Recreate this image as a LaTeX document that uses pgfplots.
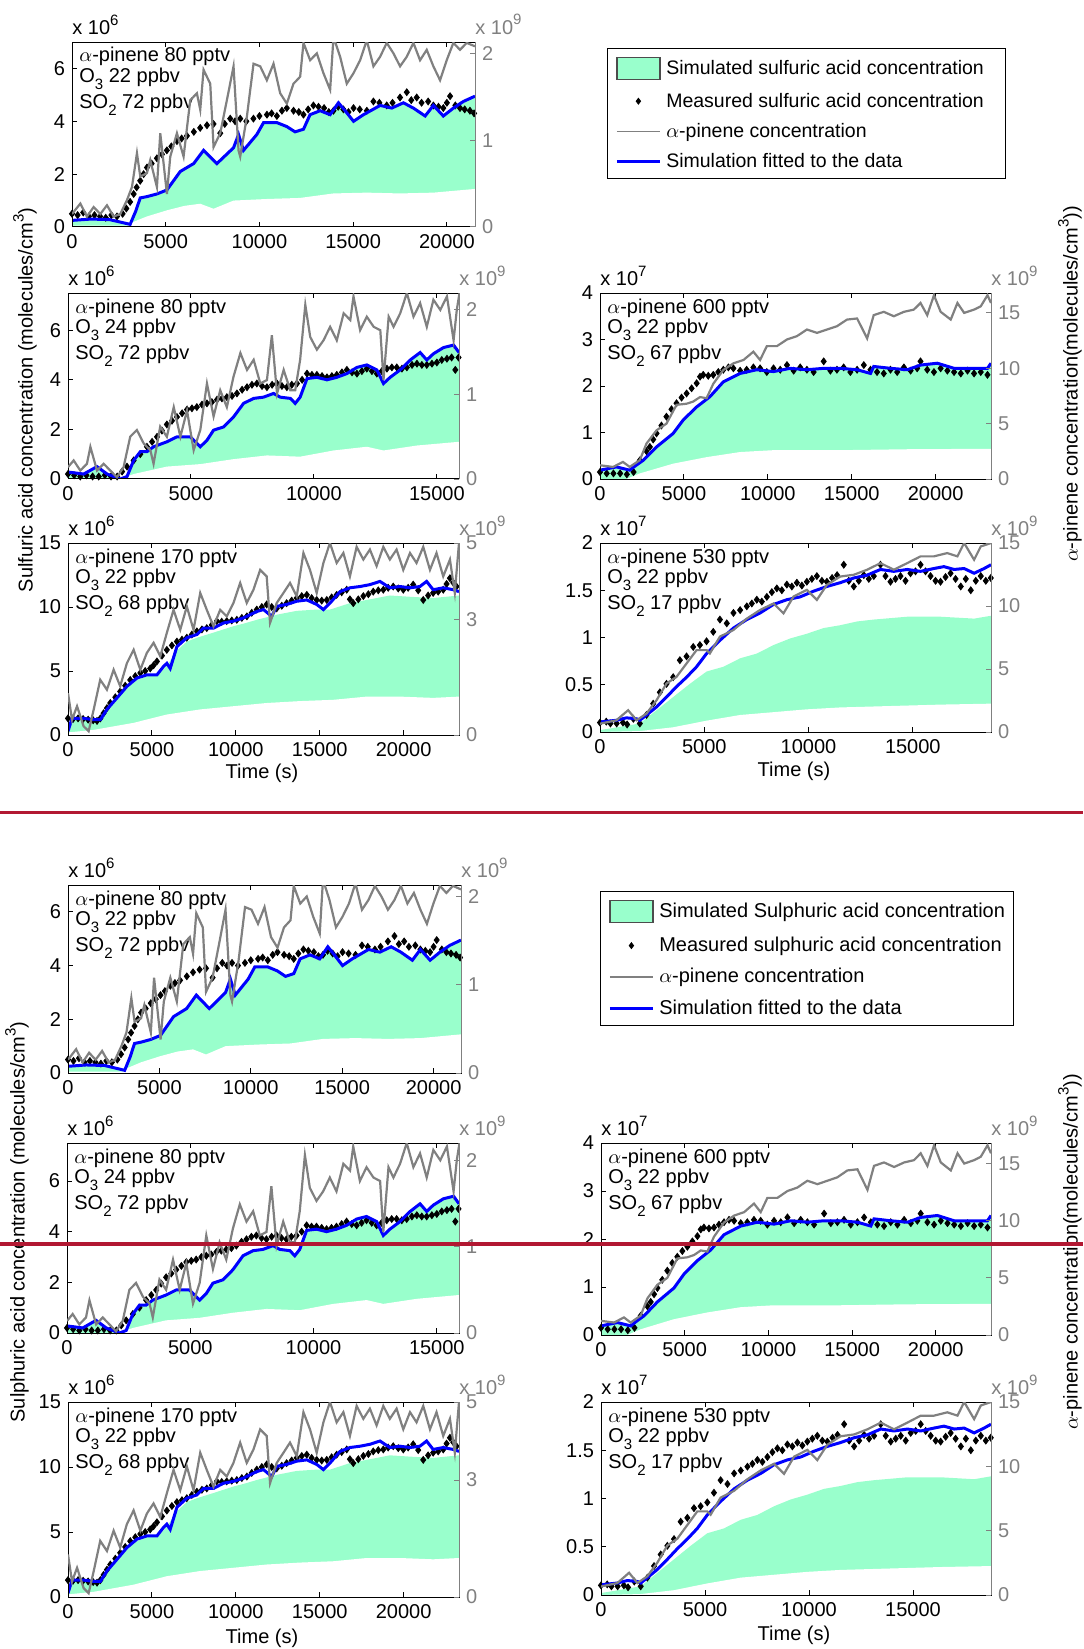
\documentclass[border=0pt]{standalone}
\usepackage{fontspec}
\setmainfont{Liberation Sans}
\usepackage{pgfplots}
\usepackage{pgfplotstable}
\pgfplotsset{compat=1.18}

\definecolor{simgreen}{RGB}{153,255,204}
\definecolor{pingray}{RGB}{128,128,128}
\definecolor{sepred}{RGB}{178,24,50}

\newcommand{\fs}{\fontsize{10}{12}\selectfont}
\newcommand{\subs}[1]{\raisebox{-3.5pt}{\fontsize{7.5}{8}\selectfont #1}}
\newcommand{\supr}[1]{\raisebox{4.5pt}{\fontsize{7.5}{8}\selectfont #1}}
\newcommand{\lstrut}{\rule[-2pt]{0pt}{9.5pt}}

\pgfplotsset{
  leftax/.style={scale only axis, anchor=north west, xmin=0, ymin=0,
    axis on top, clip mode=individual,
    axis line style={black, line width=0.5pt},
    tick style={black, line width=0.5pt}, major tick length=2.5pt,
    tick align=inside, ytick pos=left, xtick pos=both,
    scaled ticks=false, tick label style={font=\fs},
    /pgf/number format/assume math mode=true,
    /pgf/number format/1000 sep={}},
  rightax/.style={scale only axis, anchor=north west, xmin=0, ymin=0,
    clip mode=individual,
    axis x line=none, axis y line*=right,
    y axis line style={pingray, line width=0.5pt},
    tick style={pingray, line width=0.5pt}, major tick length=2.5pt,
    tick align=inside, scaled ticks=false,
    yticklabel style={pingray, font=\fs},
    /pgf/number format/assume math mode=true},
  sim/.style={color=blue, line width=1.5pt},
  meas/.style={only marks, mark=diamond*, mark size=1.7pt, color=black},
  pin/.style={color=pingray, line width=1.1pt},
}

% ---------------- panel 1: 80 pptv, O3 22, SO2 72
\pgfplotstableread{
x y
0 0.25
1000 0.3
2000 0.28
2800 0.15
3100 0.1
3400 0.6
3640 1.1
4000 1.15
4530 1.25
5060 1.4
5775 2.1
6490 2.4
7020 2.9
7730 2.4
8620 3.0
8885 3.5
9150 2.9
9860 3.5
10220 3.95
10930 3.95
11460 3.8
11900 3.6
12350 3.7
12700 4.25
13240 4.4
13770 4.25
14215 4.7
14570 4.4
15020 4.0
15550 4.25
16440 4.6
17060 4.5
17680 4.7
18210 4.5
18840 4.2
19280 4.6
19810 4.2
20350 4.5
20880 4.75
21500 4.95
}\PaB
\pgfplotstableread{
x y
0 0.05
3000 0.05
3300 0.2
4000 0.4
5060 0.63
6000 0.8
6840 0.88
7550 0.69
8620 1.0
10400 1.06
12170 1.1
13950 1.27
15730 1.3
17500 1.27
19280 1.3
21500 1.44
}\PaL
\pgfplotstableread{
x y
0 0.5
300 0.45
600 0.55
900 0.4
1200 0.45
1500 0.4
1800 0.35
2100 0.45
2400 0.4
2700 0.5
2900 0.7
3100 0.95
3290 1.25
3450 1.5
3640 1.75
3820 2.0
4000 2.25
4250 2.4
4530 2.6
4800 2.75
5060 2.9
5300 3.05
5600 3.25
5850 3.35
6130 3.45
6500 3.6
6840 3.75
7200 3.85
7550 3.9
7910 3.55
8150 3.9
8440 4.1
8700 4.0
8975 4.1
9300 4.0
9680 4.1
10000 4.2
10400 4.25
10650 4.3
10930 4.2
11200 4.4
11460 4.5
11820 4.4
12100 4.35
12350 4.25
12600 4.45
12880 4.6
13150 4.55
13450 4.5
13700 4.35
13950 4.4
14200 4.55
14480 4.45
14750 4.35
15020 4.5
15350 4.45
15730 4.4
16080 4.75
16400 4.7
16790 4.6
17100 4.7
17500 4.9
17860 5.1
18100 4.8
18390 4.9
18650 4.7
19000 4.75
19280 4.6
19550 4.55
19810 4.5
20000 4.7
20170 4.95
20450 4.6
20700 4.5
20950 4.45
21230 4.4
21450 4.3
}\PaM
\pgfplotstableread{
x y
0 0.15
444 0.27
800 0.12
1155 0.23
1510 0.15
1866 0.25
2221 0.12
2577 0.15
2932 0.31
3199 0.46
3465 0.85
3643 0.58
3998 0.62
4176 0.77
4531 0.46
4709 1.08
4887 0.73
5064 0.38
5242 0.81
5598 1.08
5953 0.81
6308 1.46
6664 1.54
6841 1.35
7019 1.81
7375 1.65
7552 0.92
7908 1.08
8263 1.46
8618 1.85
8885 0.88
8974 0.81
9329 1.27
9685 1.88
10040 1.85
10395 1.69
10751 1.88
11106 1.54
11462 1.42
11817 1.65
12172 1.73
12350 2.12
12706 1.92
13061 2.0
13416 1.77
13772 1.58
13950 2.19
14305 1.96
14660 1.65
15016 1.77
15371 1.92
15726 2.15
16082 1.85
16437 1.96
16792 2.12
17148 2.0
17503 1.85
17858 1.96
18214 2.12
18569 1.92
18924 2.04
19280 1.85
19635 1.69
19990 1.92
20346 2.12
20701 2.04
21057 2.12
21500 2.08
}\PaG

% ---------------- panel 3: 80 pptv, O3 24, SO2 72
\pgfplotstableread{
x y
0 0.28
640 0.2
1180 0.5
1590 0.2
2130 0.0
2400 0.1
2670 0.75
2940 1.1
3210 1.1
3480 1.3
4020 1.5
4430 1.7
4970 1.7
5380 1.3
5650 1.56
5920 1.97
6330 2.1
6730 2.5
7140 3.05
7550 3.25
7950 3.3
8360 3.45
8630 3.3
9040 3.25
9240 3.05
9440 3.3
9720 4.05
10120 4.1
10530 4.0
10930 4.1
11340 4.25
11750 4.5
12150 4.6
12560 4.4
12830 3.85
13100 4.1
13510 4.4
13920 4.8
14320 5.1
14590 4.8
14860 5.05
15270 5.3
15680 5.4
15900 5.1
}\PbB
\pgfplotstableread{
x y
0 0.0
2130 0.0
2670 0.2
4020 0.5
5380 0.6
6730 0.8
8090 0.95
9440 0.9
10800 1.15
12150 1.3
12830 1.15
14190 1.35
15900 1.5
}\PbL
\pgfplotstableread{
x y
0 0.2
250 0.15
500 0.1
750 0.15
1000 0.1
1250 0.1
1500 0.15
1750 0.1
2000 0.1
2200 0.3
2400 0.5
2670 0.75
2940 1.0
3210 1.3
3420 1.5
3620 1.7
3820 1.95
4020 2.2
4230 2.35
4430 2.5
4640 2.65
4840 2.8
5040 2.85
5240 2.9
5450 3.0
5650 3.05
5850 3.1
6060 3.2
6260 3.25
6460 3.3
6670 3.35
6870 3.45
7080 3.6
7280 3.7
7480 3.8
7680 3.85
7890 3.75
8090 3.7
8300 3.8
8500 3.85
8700 3.75
8900 3.7
9100 3.8
9310 3.85
9520 4.0
9720 4.25
9920 4.2
10120 4.2
10330 4.15
10530 4.1
10730 4.15
10930 4.2
11140 4.3
11340 4.4
11550 4.3
11750 4.25
11950 4.35
12150 4.45
12360 4.35
12560 4.25
12760 4.35
12970 4.45
13170 4.5
13370 4.5
13580 4.45
13780 4.5
13990 4.6
14190 4.65
14390 4.6
14590 4.6
14800 4.65
15000 4.7
15200 4.8
15410 4.85
15600 4.9
15750 4.4
15880 4.9
}\PbM
\pgfplotstableread{
x y
0 0.14
230 0.22
500 0.10
770 0.18
910 0.38
1180 0.10
1450 0.18
1720 0.10
1990 0.02
2260 0.14
2530 0.50
2800 0.58
3080 0.42
3350 0.34
3480 0.18
3750 0.62
4020 0.50
4300 0.85
4570 0.50
4840 0.81
5110 0.34
5380 0.58
5650 1.13
5920 0.74
6190 1.05
6460 0.85
6730 1.21
7010 1.49
7280 1.29
7550 1.41
7820 1.13
8090 1.17
8290 1.70
8500 1.01
8770 1.29
9040 1.05
9240 1.05
9440 1.41
9650 2.06
9850 1.68
10120 1.53
10390 1.64
10660 1.80
10930 1.64
11210 1.96
11480 1.88
11610 2.16
11880 1.76
12150 1.92
12430 1.80
12700 1.76
12830 1.17
13040 1.92
13240 1.80
13510 1.96
13780 2.20
14050 1.92
14320 2.08
14590 1.80
14860 2.12
15140 2.00
15410 2.16
15680 1.64
15810 2.00
15920 2.20
}\PbG

% ---------------- panel 4: 600 pptv, O3 22, SO2 67
\pgfplotstableread{
x y
0 0.19
980 0.26
1770 0.19
2170 0.3
2570 0.4
3370 0.69
4360 0.98
4960 1.27
5760 1.55
6550 1.77
7350 2.09
8350 2.27
9340 2.35
10340 2.31
11330 2.38
12330 2.35
13320 2.38
14320 2.38
15320 2.35
16120 2.27
16310 2.42
17310 2.38
18310 2.35
19100 2.45
20100 2.49
21100 2.38
22290 2.38
23090 2.38
23300 2.49
}\PcB
\pgfplotstableread{
x y
0 0
1570 0
2370 0.12
4360 0.33
6350 0.47
8350 0.58
10340 0.62
14320 0.62
18310 0.64
23300 0.65
}\PcL
\pgfplotstableread{
x y
0 0.15
400 0.12
800 0.12
1200 0.12
1600 0.1
2000 0.15
2370 0.4
2770 0.6
2970 0.69
3170 0.85
3370 0.98
3660 1.15
3960 1.34
4260 1.5
4560 1.63
4860 1.75
5160 1.84
5460 1.95
5760 2.06
5960 2.2
6150 2.24
6450 2.22
6750 2.24
7050 2.3
7350 2.35
7650 2.4
7950 2.38
8350 2.33
8740 2.35
9140 2.4
9540 2.38
9940 2.3
10340 2.38
10740 2.35
11140 2.45
11540 2.33
11930 2.4
12330 2.35
12730 2.3
13330 2.53
13730 2.33
14120 2.35
14520 2.4
14920 2.3
15320 2.35
15720 2.45
16120 2.35
16510 2.3
16910 2.27
17310 2.35
17710 2.3
18110 2.4
18510 2.33
18900 2.38
19100 2.53
19500 2.35
19900 2.3
20300 2.38
20700 2.33
21100 2.3
21500 2.27
21900 2.33
22290 2.27
22690 2.3
23090 2.24
}\PcM
\pgfplotstableread{
x y
0 1.24
780 1.09
1370 1.54
1770 1.09
2370 1.7
2770 3.2
3370 4.4
3960 5.0
4560 6.7
5160 6.8
5560 7.0
5960 7.4
6350 7.3
6750 8.6
7350 9.85
7950 10.45
8550 10.75
9140 11.5
9540 10.75
9940 12.0
10540 12.0
11140 12.6
11730 12.9
12330 13.5
12930 13.2
13530 13.5
14120 13.8
14720 14.4
15320 14.5
15920 12.7
16310 14.8
16910 15.1
17510 14.7
18110 15.1
18700 15.3
19100 15.9
19500 14.8
19900 16.6
20300 15.1
20900 14.4
21300 15.9
21700 15.0
22290 15.3
22690 15.6
23090 16.6
23300 15.9
}\PcG

% ---------------- panel 5: 170 pptv, O3 22, SO2 68
\pgfplotstableread{
x y
0 0.3
240 1.3
930 1.3
1530 1.2
1930 1.2
2320 2.0
2920 2.9
3510 3.8
4110 4.45
4700 4.7
5300 4.7
5690 5.35
5890 5.6
6090 5.2
6490 6.9
7080 7.6
7680 7.85
8070 8.35
8670 8.35
9260 8.75
9860 8.9
10460 9.15
11250 9.65
11650 9.8
12140 9.27
12440 10.05
13030 10.2
13630 10.45
14230 10.55
14820 10.2
15220 9.8
15610 10.3
16210 11.2
16800 11.5
17400 11.6
18000 11.75
18590 12.0
19180 11.5
19780 11.6
20380 11.5
20970 11.6
21370 12.0
21760 11.35
22360 11.5
22960 11.35
23300 11.2
}\PdB
\pgfplotstableread{
x y
0 0.3
240 1.2
930 1.2
1530 1.1
1930 1.1
2320 1.9
2920 2.8
3510 3.7
4110 4.3
4700 4.6
5300 4.6
5890 5.4
6490 6.6
7080 7.3
7680 7.6
8670 8.0
9860 8.5
10460 8.7
11250 9.0
12440 9.4
13630 9.7
14820 9.8
15610 9.8
16800 10.3
18000 10.6
19180 10.9
20380 10.8
21760 10.7
23300 10.9
}\PdU
\pgfplotstableread{
x y
0 0.2
1530 0.4
3910 0.95
5890 1.6
7880 2.0
9860 2.25
11840 2.5
13830 2.65
15810 2.75
17800 3.0
19780 3.0
21760 2.9
23300 3.0
}\PdL
\pgfplotstableread{
x y
0 1.3
300 1.25
600 1.3
900 1.25
1200 1.2
1500 1.15
1730 1.1
1930 1.3
2120 1.7
2320 2.1
2520 2.5
2820 2.95
3110 3.4
3410 3.85
3710 4.3
4010 4.6
4310 4.85
4600 5.0
4900 5.2
5100 5.45
5300 5.75
5600 6.2
5890 6.65
6190 7.0
6490 7.3
6790 7.45
7080 7.6
7380 7.85
7680 8.1
7980 8.25
8270 8.35
8570 8.6
8870 8.9
9160 8.85
9460 8.9
9760 8.95
10060 9.0
10360 9.15
10660 9.27
10950 9.55
11250 9.8
11550 10.0
11840 10.2
12140 10.0
12440 9.9
12740 10.1
13030 10.3
13330 10.5
13630 10.7
13930 10.85
14230 10.95
14520 10.7
14820 10.55
15120 10.5
15420 10.55
15710 10.75
16010 10.95
16310 11.15
16610 11.35
16800 10.6
17000 10.3
17300 10.6
17600 10.85
17900 11.0
18190 11.2
18490 11.3
18790 11.35
19080 11.5
19380 11.6
19680 11.45
19980 11.35
20270 11.5
20570 11.75
20870 11.3
21170 10.55
21460 10.9
21760 11.1
22060 11.2
22360 11.35
22560 11.8
22760 12.25
22960 11.9
23150 11.6
}\PdM
\pgfplotstableread{
x y
0 1.09
240 0.40
540 0.75
930 0.23
1230 0.10
1530 0.66
1920 1.44
2320 1.18
2720 1.70
3110 1.27
3510 1.87
3910 2.22
4310 1.70
4700 2.14
5100 2.40
5500 2.05
5890 2.66
6290 3.26
6690 2.74
7080 3.35
7480 2.74
7880 3.70
8270 3.26
8670 2.83
9070 3.26
9460 3.09
9860 3.44
10260 3.96
10650 3.44
11050 3.78
11450 4.30
11840 4.13
12040 2.92
12440 3.44
12840 3.70
13230 3.96
13630 3.61
14030 4.74
14420 4.30
14820 3.70
15220 4.48
15610 5.00
16010 4.48
16410 4.74
16800 4.13
17200 4.90
17600 4.57
17990 4.83
18390 4.40
18790 4.90
19180 4.57
19580 4.83
19980 4.30
20380 4.74
20770 4.48
21170 4.90
21570 4.30
21960 4.74
22360 4.13
22760 4.57
23050 3.70
23300 5.00
}\PdG

% ---------------- panel 6: 530 pptv, O3 22, SO2 17
\pgfplotstableread{
x y
0 0.106
785 0.124
1265 0.15
1750 0.14
1910 0.124
2230 0.18
2710 0.265
3190 0.37
3670 0.48
4150 0.58
4630 0.69
5110 0.83
5750 0.97
6400 1.1
7040 1.19
7680 1.26
8320 1.35
8960 1.4
9600 1.43
10240 1.49
10880 1.54
11520 1.58
12170 1.63
12810 1.66
13450 1.72
14090 1.7
14730 1.72
15370 1.7
16010 1.73
16490 1.75
16980 1.72
17460 1.73
17940 1.68
18420 1.73
18750 1.77
}\PeB
\pgfplotstableread{
x y
0 0.02
1910 0.09
2710 0.23
3510 0.37
4310 0.51
5110 0.64
5910 0.69
6720 0.78
7520 0.83
8320 0.92
9120 0.99
9920 1.04
10720 1.1
11520 1.13
12330 1.17
13130 1.19
14730 1.22
16330 1.22
17940 1.2
18750 1.23
}\PeU
\pgfplotstableread{
x y
0 0
1910 0.01
3510 0.05
5110 0.12
6720 0.18
8320 0.21
9920 0.24
11520 0.26
13130 0.27
14730 0.28
16330 0.29
18750 0.3
}\PeL
\pgfplotstableread{
x y
0 0.1
300 0.11
500 0.09
800 0.09
1100 0.1
1300 0.08
1600 0.14
1910 0.09
2230 0.18
2550 0.3
2870 0.42
3190 0.51
3510 0.58
3830 0.76
4150 0.8
4470 0.9
4790 0.92
5110 0.96
5430 1.06
5750 1.19
6080 1.15
6400 1.26
6720 1.29
7040 1.33
7280 1.36
7520 1.4
7760 1.38
8000 1.43
8240 1.48
8480 1.52
8720 1.5
8960 1.56
9200 1.54
9440 1.58
9680 1.55
9920 1.59
10160 1.62
10400 1.65
10640 1.6
10880 1.59
11130 1.63
11370 1.66
11690 1.77
11930 1.6
12170 1.54
12410 1.6
12650 1.66
12890 1.62
13130 1.65
13450 1.77
13690 1.65
13930 1.59
14170 1.62
14410 1.65
14650 1.6
14890 1.68
15130 1.7
15370 1.77
15610 1.7
15850 1.65
16090 1.6
16330 1.59
16570 1.64
16810 1.68
17050 1.62
17300 1.54
17540 1.62
17780 1.5
18020 1.6
18260 1.65
18500 1.6
18740 1.63
}\PeM
\pgfplotstableread{
x y
0 0.66
785 0.93
1350 1.73
1750 0.93
2230 1.46
2710 2.52
3190 3.85
3670 4.38
4150 5.44
4630 6.5
5110 6.5
5270 6.24
5750 7.57
6400 8.1
7040 9.0
7680 9.69
8320 10.2
8800 9.42
9280 10.75
9920 11.28
10400 10.49
10880 11.68
11520 12.34
12170 12.48
12810 12.88
13450 13.4
14090 12.88
14730 13.4
15370 13.94
16010 13.94
16650 14.2
17140 13.94
17460 15.0
17940 13.67
18260 14.73
18750 15.0
}\PeG

% ---------------- helpers
\newcommand{\multl}[1]{\node[anchor=base west, inner sep=0pt, font=\fs, yshift=4pt] at (rel axis cs:0,1) {x 10\supr{#1}};}
\newcommand{\multr}{\node[anchor=base west, inner sep=0pt, font=\fs, text=pingray, yshift=4pt] at (rel axis cs:1,1) {x 10\supr{9}};}
\newcommand{\ann}[3]{%
  \node[anchor=base west, inner sep=0pt, font=\fs, xshift=3.5pt, yshift=-10pt] at (rel axis cs:0,1) {$\alpha$-pinene #1 pptv};
  \node[anchor=base west, inner sep=0pt, font=\fs, xshift=3.5pt, yshift=-20pt] at (rel axis cs:0,1) {O\subs{3} #2 ppbv};
  \node[anchor=base west, inner sep=0pt, font=\fs, xshift=3.5pt, yshift=-33pt] at (rel axis cs:0,1) {SO\subs{2} #3 ppbv};}

% green band: upper curve filled down to zero, then the part below the lower curve painted white
\newcommand{\panelA}[3]{%
\begin{axis}[leftax, at={#1}, width=#2, height=#3, xmax=21500, ymax=7,
  xtick={0,5000,10000,15000,20000}, ytick={0,2,4,6}]
  \addplot[fill=simgreen, draw=none] table {\PaB} \closedcycle;
  \addplot[fill=white, draw=none] table {\PaL} \closedcycle;
  \addplot[meas] table {\PaM};
  \addplot[sim] table {\PaB};
  \multl{6}
  \ann{80}{22}{72}
\end{axis}
\begin{axis}[rightax, at={#1}, width=#2, height=#3, xmax=21500, ymax=2.13, ytick={0,1,2}]
  \addplot[pin] table {\PaG};
  \multr
\end{axis}}

\newcommand{\panelB}[3]{%
\begin{axis}[leftax, at={#1}, width=#2, height=#3, xmax=15900, ymax=7.5,
  xtick={0,5000,10000,15000}, ytick={0,2,4,6}]
  \addplot[fill=simgreen, draw=none] table {\PbB} \closedcycle;
  \addplot[fill=white, draw=none] table {\PbL} \closedcycle;
  \addplot[meas] table {\PbM};
  \addplot[sim] table {\PbB};
  \multl{6}
  \ann{80}{24}{72}
\end{axis}
\begin{axis}[rightax, at={#1}, width=#2, height=#3, xmax=15900, ymax=2.2, ytick={0,1,2}]
  \addplot[pin] table {\PbG};
  \multr
\end{axis}}

\newcommand{\panelC}[3]{%
\begin{axis}[leftax, at={#1}, width=#2, height=#3, xmax=23300, ymax=4,
  xtick={0,5000,10000,15000,20000}, ytick={0,1,2,3,4}]
  \addplot[fill=simgreen, draw=none] table {\PcB} \closedcycle;
  \addplot[fill=white, draw=none] table {\PcL} \closedcycle;
  \addplot[meas] table {\PcM};
  \addplot[sim] table {\PcB};
  \multl{7}
  \ann{600}{22}{67}
\end{axis}
\begin{axis}[rightax, at={#1}, width=#2, height=#3, xmax=23300, ymax=16.8, ytick={0,5,10,15}]
  \addplot[pin] table {\PcG};
  \multr
\end{axis}}

\newcommand{\panelD}[3]{%
\begin{axis}[leftax, at={#1}, width=#2, height=#3, xmax=23300, ymax=15,
  xtick={0,5000,10000,15000,20000}, ytick={0,5,10,15}]
  \addplot[fill=simgreen, draw=none] table {\PdU} \closedcycle;
  \addplot[fill=white, draw=none] table {\PdL} \closedcycle;
  \addplot[meas] table {\PdM};
  \addplot[sim] table {\PdB};
  \multl{6}
  \ann{170}{22}{68}
\end{axis}
\begin{axis}[rightax, at={#1}, width=#2, height=#3, xmax=23300, ymax=5, ytick={0,3,5}]
  \addplot[pin] table {\PdG};
  \multr
\end{axis}}

\newcommand{\panelE}[3]{%
\begin{axis}[leftax, at={#1}, width=#2, height=#3, xmax=18750, ymax=2,
  xtick={0,5000,10000,15000}, ytick={0,0.5,1,1.5,2}]
  \addplot[fill=simgreen, draw=none] table {\PeU} \closedcycle;
  \addplot[fill=white, draw=none] table {\PeL} \closedcycle;
  \addplot[meas] table {\PeM};
  \addplot[sim] table {\PeB};
  \multl{7}
  \ann{530}{22}{17}
\end{axis}
\begin{axis}[rightax, at={#1}, width=#2, height=#3, xmax=18750, ymax=15, ytick={0,5,10,15}]
  \addplot[pin] table {\PeG};
  \multr
\end{axis}}

% #1 at, #2 font size, #3 row sep, #4 entry 1, #5 entry 2, #6 inner ysep
\newcommand{\legbox}[6]{%
\begin{axis}[at={#1}, anchor=north west, scale only axis, width=10pt, height=10pt,
  hide axis, xmin=0, xmax=1, ymin=0, ymax=1,
  legend cell align=left,
  legend style={at={(0,1)}, anchor=north west, draw=black, line width=0.5pt,
    font=\fontsize{#2}{12}\selectfont, inner xsep=4pt, inner ysep=#6,
    row sep=#3, column sep=2.5pt, nodes={inner sep=0pt}}]
  \addplot[draw=none, forget plot] coordinates {(0,0) (1,1)};
  \addlegendimage{legend image code/.code={\draw[fill=simgreen, draw=black!70, line width=0.6pt] (0pt,-5.5pt) rectangle (21.5pt,5.5pt);}}
  \addlegendentry{\lstrut #4}
  \addlegendimage{legend image code/.code={\path (0pt,0pt) (21.5pt,0pt); \draw[black] plot[only marks, mark=diamond*, mark size=1.4pt] coordinates {(10.75pt,0pt)};}}
  \addlegendentry{\lstrut #5}
  \addlegendimage{legend image code/.code={\draw[pingray, line width=0.6pt] (0pt,0pt) -- (21.5pt,0pt);}}
  \addlegendentry{\lstrut $\alpha$-pinene concentration}
  \addlegendimage{legend image code/.code={\draw[blue, line width=1.4pt] (0pt,0pt) -- (21.5pt,0pt);}}
  \addlegendentry{\lstrut Simulation fitted to the data}
\end{axis}}

\begin{document}
\begin{tikzpicture}
\useasboundingbox (0pt,0pt) rectangle (541.5pt,-824.5pt);

% upper copy
\panelA{(36pt,-21pt)}{201.5pt}{92.5pt}
\panelB{(34pt,-146.5pt)}{195.5pt}{93pt}
\panelC{(300pt,-146.5pt)}{195.5pt}{93pt}
\panelD{(34pt,-271.5pt)}{195.5pt}{96pt}
\panelE{(300pt,-271.5pt)}{195.5pt}{94.5pt}
\legbox{(303.5pt,-24pt)}{9.75}{6pt}{Simulated sulfuric acid concentration\hspace*{7pt}}{Measured sulfuric acid concentration}{4.25pt}

\node[rotate=90, font=\fs] at (12.5pt,-200pt) {Sulfuric acid concentration (molecules/cm\supr{3})};
\node[rotate=90, font=\fs] at (535pt,-192pt) {$\alpha$-pinene concentration(molecules/cm\supr{3}))};
\node[font=\fs] at (131pt,-386.5pt) {Time (s)};
\node[font=\fs] at (397pt,-385.5pt) {Time (s)};

% lower copy
\panelA{(34pt,-442.5pt)}{196.5pt}{94pt}
\panelB{(33.5pt,-571.5pt)}{196pt}{95pt}
\panelC{(300.5pt,-571.5pt)}{195pt}{96pt}
\panelD{(34pt,-701pt)}{195.5pt}{97.5pt}
\panelE{(300.5pt,-701pt)}{195pt}{96.5pt}
\legbox{(300pt,-445.5pt)}{10}{6.65pt}{Simulated Sulphuric acid concentration}{Measured sulphuric acid concentration}{4.3pt}

\node[rotate=90, font=\fs] at (8.5pt,-611pt) {Sulphuric acid concentration (molecules/cm\supr{3})};
\node[rotate=90, font=\fs] at (535pt,-626pt) {$\alpha$-pinene concentration(molecules/cm\supr{3}))};
\node[font=\fs] at (131pt,-819pt) {Time (s)};
\node[font=\fs] at (397pt,-817.5pt) {Time (s)};

% red separators
\draw[sepred, line width=1.5pt] (0pt,-406pt) -- (541.5pt,-406pt);
\draw[sepred, line width=2pt] (0pt,-622pt) -- (541.5pt,-622pt);
\end{tikzpicture}
\end{document}
